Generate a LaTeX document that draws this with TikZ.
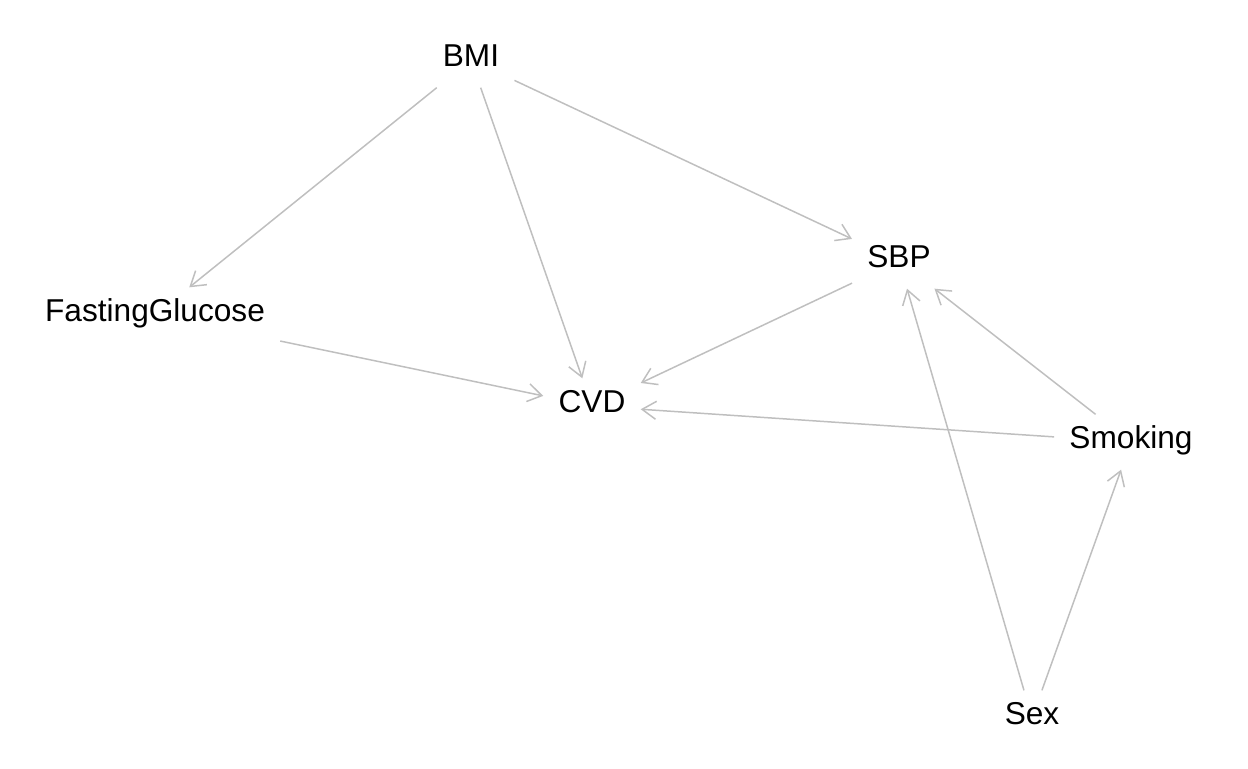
\documentclass[tikz,border=0pt]{standalone}
\usepackage{fontspec}
\setmainfont{Liberation Sans}
\usetikzlibrary{arrows.meta}

\tikzset{
  var/.style={inner xsep=0.3cm,inner ysep=0.42cm,text height=0.72em,text depth=0pt,
    font=\fontsize{18}{22}\selectfont},
  edge/.style={draw=gray!50!white,line width=0.85pt,
    -{Straight Barb[length=0.28cm,width=0.36cm,line width=0.85pt]}}
}

\begin{document}
\begin{tikzpicture}
\begin{scope}[x=0.02cm,y=-0.02cm]

\useasboundingbox (0,0) rectangle (1248,768);

\node[var] (bmi)   at (471,60)  {BMI};
\node[var] (fg)    at (155,315) {FastingGlucose};
\node[var] (sbp)   at (899,261) {SBP};
\node[var] (cvd)   at (592,406) {CVD};
\node[var] (smk)   at (1131,442) {Smoking};
\node[var] (sex)   at (1032,718) {Sex};

\path[edge] (bmi) -- (fg);% BMI
\path[edge] (bmi) -- (cvd);
\path[edge] (bmi) -- (sbp);
\path[edge] (fg)  -- (cvd);% FastingGlucose
\path[edge] (sbp) -- (cvd);% SBP
\path[edge] (smk) -- (cvd);% Smoking
\path[edge] (smk) -- (sbp);
\path[edge] (sex) -- (sbp);% Sex
\path[edge] (sex) -- (smk);

\end{scope}
\end{tikzpicture}
\end{document}
